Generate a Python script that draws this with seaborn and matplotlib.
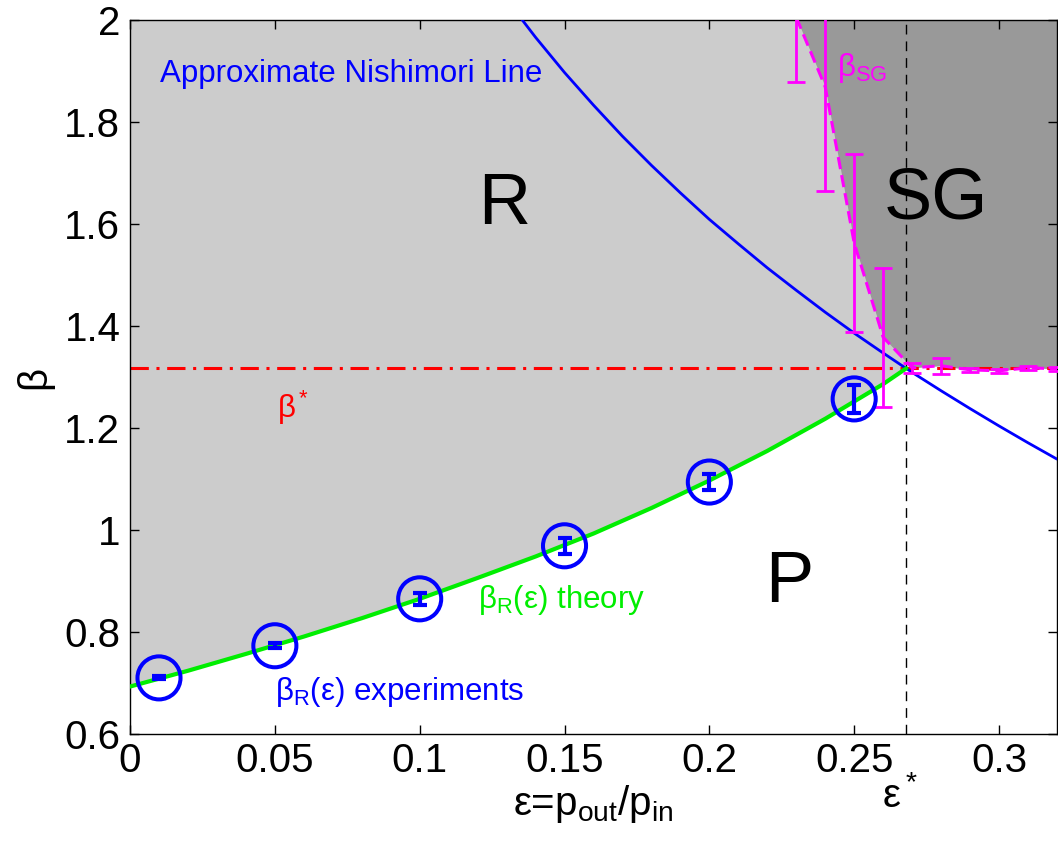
import seaborn as sns
import matplotlib.pyplot as plt
import pandas as pd

# beta_R(eps) theory curve
eps_theory = [0.0, 0.02, 0.04, 0.06, 0.08, 0.10, 0.12, 0.14, 0.16, 0.18, 0.20,
              0.22, 0.24, 0.26, 0.268]
beta_theory = [0.693, 0.724, 0.757, 0.791, 0.827, 0.865, 0.906, 0.948, 0.993, 1.043,
               1.097, 1.155, 1.218, 1.286, 1.317]

# approximate Nishimori line
eps_nish = [0.13, 0.14, 0.15, 0.16, 0.17, 0.18, 0.19, 0.20, 0.21, 0.22, 0.23,
            0.24, 0.25, 0.26, 0.27, 0.28, 0.29, 0.30, 0.31, 0.32]
beta_nish = [2.040, 1.966, 1.897, 1.833, 1.772, 1.715, 1.661, 1.609, 1.561, 1.514,
             1.470, 1.427, 1.386, 1.347, 1.309, 1.273, 1.238, 1.204, 1.171, 1.139]

# beta_R(eps) experiments
eps_exp = [0.01, 0.05, 0.10, 0.15, 0.20, 0.25]
beta_exp = [0.710, 0.773, 0.865, 0.969, 1.094, 1.257]
err_exp = [0.003, 0.005, 0.012, 0.016, 0.016, 0.027]

# beta_SG measurements
eps_sg = [0.23, 0.24, 0.25, 0.26, 0.27, 0.28, 0.29, 0.30, 0.31, 0.32]
beta_sg = [2.005, 1.869, 1.563, 1.378, 1.318, 1.322, 1.314, 1.312, 1.318, 1.316]
err_sg = [0.127, 0.204, 0.175, 0.136, 0.010, 0.016, 0.004, 0.004, 0.004, 0.004]

eps_star = 0.268
beta_star = 1.317

sns.set_theme(style='ticks')
plt.rcParams['font.family'] = ['Liberation Sans', 'DejaVu Sans']
plt.rcParams['mathtext.fontset'] = 'custom'
plt.rcParams['mathtext.rm'] = 'Liberation Sans'
plt.rcParams['mathtext.it'] = 'Liberation Sans'
plt.rcParams['mathtext.default'] = 'regular'
plt.rcParams['text.color'] = 'black'
plt.rcParams['axes.labelcolor'] = 'black'
plt.rcParams['xtick.color'] = 'black'
plt.rcParams['ytick.color'] = 'black'

fig = plt.figure(figsize=(10.58, 8.46), dpi=100)
ax = fig.add_axes([0.1229, 0.1324, 0.8761, 0.844])

# phase regions
ax.fill_between(eps_theory, beta_theory, 2.0, color='#cccccc', lw=0, zorder=0)
ax.fill_between(eps_sg, beta_sg, 2.0, color='#999999', lw=0, zorder=0.5)

theory = pd.DataFrame({'eps': eps_theory, 'beta': beta_theory})
nish = pd.DataFrame({'eps': eps_nish, 'beta': beta_nish})
sg = pd.DataFrame({'eps': eps_sg, 'beta': beta_sg})

sns.lineplot(data=nish, x='eps', y='beta', color='#0000ff', lw=2, sort=False, ax=ax, zorder=3)
sns.lineplot(data=theory, x='eps', y='beta', color='#00ee00', lw=3, sort=False, ax=ax, zorder=4)
sns.lineplot(data=sg, x='eps', y='beta', color='#ff00ff', lw=2.2, sort=False, ax=ax,
             zorder=3).lines[-1].set_dashes((4, 2))

ax.axhline(beta_star, color='#ff0000', lw=2.2, dashes=(6, 2.5, 1, 2.5), zorder=2)
ax.axvline(eps_star, color='black', lw=1, dashes=(7, 5), zorder=2)

ax.errorbar(eps_sg, beta_sg, yerr=err_sg, fmt='none', ecolor='#ff00ff', elinewidth=2,
            capsize=6.5, capthick=2, zorder=5)
ax.errorbar(eps_exp, beta_exp, yerr=err_exp, fmt='none', ecolor='#0000ff', elinewidth=3,
            capsize=5, capthick=3, zorder=6)
sns.scatterplot(x=eps_exp, y=beta_exp, s=31 ** 2, facecolor='none', edgecolor='#0000ff',
                linewidth=2.9, ax=ax, zorder=6)

# labels on the diagram
ax.text(0.1293, 1.637, 'R', fontsize=52, ha='center', va='center', zorder=7)
ax.text(0.2783, 1.647, 'SG', fontsize=52, ha='center', va='center', zorder=7)
ax.text(0.2276, 0.896, 'P', fontsize=52, ha='center', va='center', zorder=7)
ax.text(0.0103, 1.878, 'Approximate Nishimori Line', color='#0000ff', fontsize=22.5,
        ha='left', va='baseline')
ax.text(0.0507, 1.24, r'$\beta^*$', color='#ff0000', fontsize=22.5, ha='left', va='center')
ax.text(0.2441, 1.89, r'$\beta_{SG}$', color='#ff00ff', fontsize=22.5, ha='left', va='baseline')
ax.text(0.120, 0.847, r'$\beta_R(\varepsilon)$ theory', color='#00ee00', fontsize=22.5,
        ha='left', va='baseline')
ax.text(0.050, 0.667, r'$\beta_R(\varepsilon)$ experiments', color='#0000ff', fontsize=22.5,
        ha='left', va='baseline')
ax.annotate(r'$\varepsilon^*$', xy=(0.2595, -0.102), xycoords=('data', 'axes fraction'),
            fontsize=29, ha='left', va='baseline', annotation_clip=False)

ax.set_xlim(0, 0.32)
ax.set_ylim(0.6, 2.0)
ax.set_xticks([0, 0.05, 0.1, 0.15, 0.2, 0.25, 0.3])
ax.set_xticklabels(['0', '0.05', '0.1', '0.15', '0.2', '0.25', '0.3'])
ax.set_yticks([0.6, 0.8, 1.0, 1.2, 1.4, 1.6, 1.8, 2.0])
ax.set_yticklabels(['0.6', '0.8', '1', '1.2', '1.4', '1.6', '1.8', '2'])
ax.tick_params(direction='in', length=6.5, width=1, labelsize=29, top=True, right=True,
               color='black', labelcolor='black')
ax.tick_params(axis='x', pad=6)
ax.tick_params(axis='y', pad=7)
for s in ax.spines.values():
    s.set_visible(True)
    s.set_color('black')
    s.set_linewidth(1)
ax.set_xlabel(r'$\varepsilon$=p$_{out}$/p$_{in}$', fontsize=29, labelpad=2)
ax.set_ylabel('β', fontsize=29, labelpad=8)
ax.grid(False)

fig.savefig('out.png', dpi=100)
